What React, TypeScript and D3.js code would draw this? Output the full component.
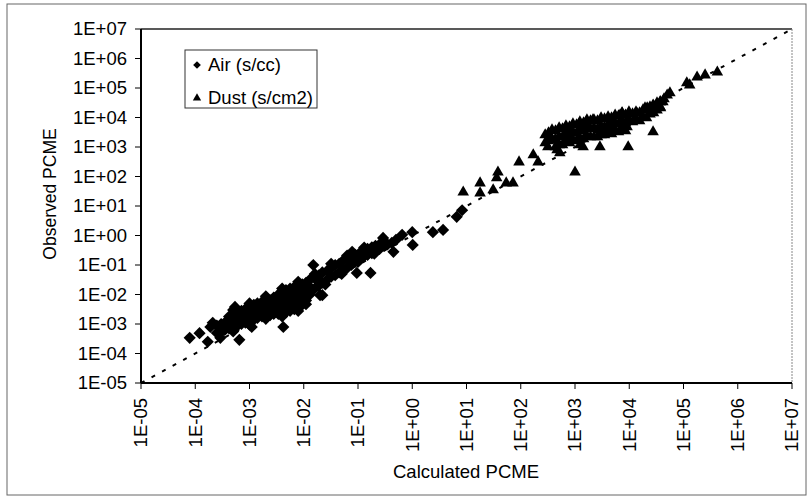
import React from "react";
import * as d3 from "d3";

// tick values and their labels (shared by both log axes)
const tickValues = [1e-5, 1e-4, 1e-3, 1e-2, 1e-1, 1e0, 1e1, 1e2, 1e3, 1e4, 1e5, 1e6, 1e7];
const tickLabels = ["1E-05", "1E-04", "1E-03", "1E-02", "1E-01", "1E+00", "1E+01", "1E+02", "1E+03", "1E+04", "1E+05", "1E+06", "1E+07"];

// Air (s/cc): calculated vs observed
const airCalc = [
  2.5e-4, 2.5e-4, 3.5e-4, 3.5e-4, 5.0e-4, 5.0e-4, 5.0e-4, 7.1e-4, 7.1e-4, 7.1e-4,
  1.0e-3, 1.0e-3, 1.0e-3, 1.4e-3, 1.4e-3, 1.4e-3, 2.0e-3, 2.0e-3, 2.0e-3, 2.8e-3,
  2.8e-3, 2.8e-3, 4.0e-3, 4.0e-3, 4.0e-3, 4.0e-3, 5.6e-3, 5.6e-3, 5.6e-3, 5.6e-3,
  7.9e-3, 7.9e-3, 7.9e-3, 7.9e-3, 1.1e-2, 1.1e-2, 1.1e-2, 1.6e-2, 1.6e-2, 2.2e-2,
  2.2e-2, 3.2e-2, 3.2e-2, 4.5e-2, 4.5e-2, 6.3e-2, 6.3e-2, 8.9e-2, 8.9e-2, 0.13,
  0.13, 0.18, 0.18, 0.25, 0.25, 0.35, 0.5,
  3.0e-4, 3.0e-4, 4.2e-4, 4.2e-4, 4.2e-4, 6.0e-4, 6.0e-4, 6.0e-4, 8.4e-4, 8.4e-4,
  8.4e-4, 1.2e-3, 1.2e-3, 1.2e-3, 1.7e-3, 1.7e-3, 1.7e-3, 2.4e-3, 2.4e-3, 2.4e-3,
  3.4e-3, 3.4e-3, 3.4e-3, 3.4e-3, 4.7e-3, 4.7e-3, 4.7e-3, 4.7e-3, 6.7e-3, 6.7e-3,
  6.7e-3, 6.7e-3, 9.4e-3, 9.4e-3, 9.4e-3, 9.4e-3, 1.3e-2, 1.3e-2, 1.3e-2, 1.9e-2,
  1.9e-2, 2.7e-2, 2.7e-2, 3.8e-2, 3.8e-2, 5.3e-2, 5.3e-2, 7.5e-2, 7.5e-2, 0.106,
  0.106, 0.15, 0.15, 0.21, 0.21, 0.3, 0.3, 0.42,
  5.0e-4, 1.0e-3, 2.0e-3, 4.0e-3, 7.9e-3, 1.6e-2, 3.2e-2, 6.3e-2, 0.13,
  5.0e-4, 1.0e-3, 2.0e-3, 4.0e-3, 7.9e-3, 1.1e-2, 2.5e-2, 5.0e-2, 0.1, 0.2,
  7.9e-5, 1.2e-4, 1.7e-4, 2.1e-4, 2.9e-4, 6.5e-4, 1.1e-3, 4.2e-3, 5.4e-4, 1.5e-2,
  2.0e-2, 7.8e-2, 9.5e-2, 0.17, 0.29, 0.45, 0.65, 1.02, 1.0, 2.4,
  3.7, 6.6, 8.3, 1.9e-4, 2.2e-2,
];
const airObs = [
  5.0e-4, 8.9e-4, 6.3e-4, 1.1e-3, 7.9e-4, 1.4e-3, 2.2e-3, 1.0e-3, 1.8e-3, 2.8e-3,
  1.3e-3, 2.2e-3, 4.0e-3, 1.6e-3, 2.8e-3, 5.0e-3, 2.0e-3, 3.5e-3, 6.3e-3, 2.2e-3,
  4.0e-3, 7.9e-3, 2.5e-3, 4.5e-3, 7.9e-3, 1.3e-2, 2.8e-3, 5.0e-3, 8.9e-3, 1.6e-2,
  3.5e-3, 6.3e-3, 1.1e-2, 2.0e-2, 6.3e-3, 1.1e-2, 2.5e-2, 1.6e-2, 3.5e-2, 2.5e-2,
  5.6e-2, 4.0e-2, 7.9e-2, 5.6e-2, 0.11, 7.9e-2, 0.16, 0.13, 0.22, 0.2,
  0.32, 0.25, 0.4, 0.35, 0.5, 0.5, 0.71,
  5.6e-4, 1.0e-3, 7.1e-4, 1.26e-3, 1.78e-3, 8.9e-4, 1.6e-3, 2.5e-3, 1.1e-3, 2.0e-3,
  3.2e-3, 1.4e-3, 2.5e-3, 4.5e-3, 1.8e-3, 3.2e-3, 5.6e-3, 2.0e-3, 3.5e-3, 6.3e-3,
  2.2e-3, 4.0e-3, 6.3e-3, 1.0e-2, 2.5e-3, 4.5e-3, 7.9e-3, 1.4e-2, 3.2e-3, 5.6e-3,
  1.0e-2, 1.8e-2, 4.5e-3, 7.9e-3, 1.4e-2, 2.2e-2, 1.0e-2, 1.8e-2, 3.2e-2, 2.0e-2,
  4.5e-2, 3.2e-2, 6.3e-2, 4.5e-2, 0.1, 7.1e-2, 0.14, 0.1, 0.2, 0.16,
  0.25, 0.22, 0.35, 0.32, 0.45, 0.45, 0.63, 0.56,
  3.0e-3, 5.0e-3, 8.7e-3, 1.6e-2, 2.7e-2, 5.0e-2, 0.11, 0.21, 0.39,
  5.6e-4, 9.5e-4, 1.5e-3, 1.8e-3, 2.75e-3, 4.7e-3, 2.2e-2, 5.0e-2, 0.126, 0.24,
  3.4e-4, 4.9e-4, 2.5e-4, 1.1e-3, 3.4e-4, 2.9e-4, 7.9e-4, 7.9e-4, 3.8e-3, 0.1,
  9.5e-3, 0.28, 5.4e-2, 5.4e-2, 0.83, 0.28, 1.05, 0.48, 1.3, 1.3,
  1.55, 4.3, 7.2, 7.9e-4, 9.5e-3,
];

// Dust (s/cm2): calculated vs observed
const dustCalc = [
  282, 282, 377, 377, 510, 510, 510, 681, 681, 681,
  916, 916, 916, 1230, 1230, 1230, 1660, 1660, 1660, 2240,
  2240, 2240, 3020, 3020, 3020, 4070, 4070, 4070, 5490, 5490,
  5490, 7350, 7350, 7350, 9880, 9880, 13300, 13300, 17900, 17900,
  24100, 24100, 32500, 32500, 43700,
  325, 325, 437, 437, 437, 589, 589, 589, 792, 792,
  792, 1070, 1070, 1070, 1440, 1440, 1440, 1930, 1930, 1930,
  2600, 2600, 2600, 3500, 3500, 3500, 4710, 4710, 4710, 6340,
  6340, 6340, 8530, 8530, 8530, 11500, 11500, 15500, 15500, 20800,
  20800, 28000, 28000, 37700, 37700,
  8.7, 17.8, 17.8, 31, 38, 36, 54, 72, 93, 170,
  209, 347, 316, 468, 525, 1000, 708, 912, 1660, 2140,
  2880, 1410, 2880, 6760, 5010, 9120, 9550, 27500, 13800, 21400,
  27500, 37000, 50000, 56200, 37000, 1.15e5, 1.3e5, 1.78e5, 2.5e5, 4.2e5,
  813, 1410, 4790, 7410, 19500, 41700, 1230,
];
const dustObs = [
  2550, 1370, 3770, 1730, 4410, 2180, 1170, 5150, 2760, 1480,
  6020, 3220, 1730, 7030, 3770, 2020, 8220, 4410, 2360, 8220,
  4410, 2180, 9620, 5150, 2550, 10400, 5570, 2980, 12100, 6510,
  3480, 14200, 7600, 4410, 15400, 8220, 15400, 8890, 17900, 10400,
  22700, 13100, 31000, 17900, 42400,
  2980, 1600, 3480, 1870, 1000, 4070, 2180, 1170, 4760, 2550,
  1370, 5570, 2980, 1600, 6510, 3480, 1870, 7600, 4070, 2180,
  7600, 4070, 2180, 8890, 4760, 2550, 9620, 5150, 2760, 11200,
  6020, 3220, 12100, 6510, 3480, 13100, 7030, 14200, 7600, 17900,
  9620, 24500, 14200, 33500, 21000,
  29.5, 60, 27.5, 35, 141, 89, 60, 60, 309, 537,
  309, 2190, 1000, 794, 631, 141, 2190, 2950, 6460, 8300,
  3800, 1000, 1000, 12000, 4790, 4790, 1000, 3240, 14100, 20900,
  26300, 33900, 57500, 67600, 22900, 1.48e5, 1.26e5, 2.34e5, 2.75e5, 3.47e5,
  3800, 5620, 7080, 14100, 20900, 33900, 1170,
];

const W = 809;
const H = 497;
const left = 141, right = 792, top = 29, bottom = 383;
const font = "'Liberation Sans', Arial, sans-serif";

export default function App() {
  const x = d3.scaleLog().domain([1e-5, 1e7]).range([left, right]);
  const y = d3.scaleLog().domain([1e-5, 1e7]).range([bottom, top]);

  const diamond = d3.symbol(d3.symbolSquare, 74)();
  const triangle = d3.symbol(d3.symbolTriangle, 58)();
  const diamondSmall = d3.symbol(d3.symbolSquare, 30)();
  const triangleSmall = d3.symbol(d3.symbolTriangle, 30)();

  return (
    <svg width={W} height={H} style={{ position: "absolute", left: 0, top: 0, background: "#fff" }} fontFamily={font}>
      <rect x={7} y={4} width={799} height={491} fill="#fff" stroke="#666" strokeWidth={1} />

      {/* plot frame */}
      <line x1={left} x2={right} y1={top} y2={top} stroke="#222" strokeWidth={1.5} />
      <line x1={right} x2={right} y1={top} y2={bottom} stroke="#888" strokeWidth={1} strokeDasharray="2 1" />

      {/* 1:1 line */}
      <line x1={x(1e-5)} y1={y(1e-5)} x2={x(1e7)} y2={y(1e7)} stroke="#000" strokeWidth={2} strokeDasharray="4 8" />

      {airCalc.map((v, i) => (
        <path key={"a" + i} d={diamond} transform={`translate(${x(v)},${y(airObs[i])}) rotate(45)`} fill="#000" />
      ))}
      {dustCalc.map((v, i) => (
        <path key={"d" + i} d={triangle} transform={`translate(${x(v)},${y(dustObs[i])})`} fill="#000" />
      ))}

      {/* axes */}
      <line x1={left} x2={left} y1={top} y2={bottom} stroke="#000" strokeWidth={2} />
      <line x1={left} x2={right} y1={bottom} y2={bottom} stroke="#000" strokeWidth={2} />
      {tickValues.map((t, i) => (
        <g key={"yt" + i}>
          <line x1={left - 6} x2={left} y1={y(t)} y2={y(t)} stroke="#000" strokeWidth={1} />
          <text x={left - 14} y={y(t)} dy="0.35em" textAnchor="end" fontSize={18.5} fill="#000">
            {tickLabels[i]}
          </text>
        </g>
      ))}
      {tickValues.map((t, i) => (
        <g key={"xt" + i}>
          <line x1={x(t)} x2={x(t)} y1={bottom} y2={bottom + 6} stroke="#000" strokeWidth={1} />
          <text transform={`translate(${x(t)},${bottom + 15}) rotate(-90)`} dy="0.35em" textAnchor="end" fontSize={18.5} fill="#000">
            {tickLabels[i]}
          </text>
        </g>
      ))}

      <text x={466} y={472} dy="0.35em" textAnchor="middle" fontSize={18.5} fill="#000">Calculated PCME</text>
      <text transform="translate(50,194) rotate(-90)" dy="0.35em" textAnchor="middle" fontSize={17.5} fill="#000">Observed PCME</text>

      {/* legend */}
      <rect x={185} y={50} width={132} height={58} fill="#fff" stroke="#333" strokeWidth={1} />
      <path d={diamondSmall} transform="translate(197,65) rotate(45)" fill="#000" />
      <text x={208} y={65} dy="0.35em" fontSize={18.5} fill="#000">Air (s/cc)</text>
      <path d={triangleSmall} transform="translate(197,98)" fill="#000" />
      <text x={208} y={98} dy="0.35em" fontSize={18.5} fill="#000">Dust (s/cm2)</text>
    </svg>
  );
}
